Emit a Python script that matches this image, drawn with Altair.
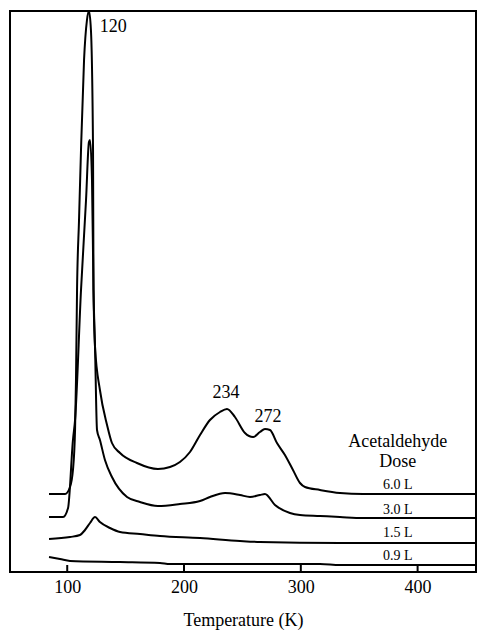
import altair as alt
import pandas as pd

# Temperature (K) and intensity (arbitrary, offset traces)
t_60 = [84.4, 98.1, 102.4, 104.9, 106.7, 107.5, 108.4, 110.1, 111.8, 114.4, 116.9, 118.6, 120.3,
        122.1, 122.5, 123.8, 128.0, 134.1, 138.3, 145.2, 159.7, 177.7, 188.0, 196.5, 205.1, 213.7,
        222.2, 230.8, 236.8, 243.6, 252.2, 259.1, 265.0, 269.3, 273.6, 279.6, 286.4, 293.3, 299.3,
        303.6, 316.4, 333.5, 353.2, 450.0]
v_60 = [78, 78, 85, 102, 142, 192, 282, 352, 422, 512, 552, 561, 542,
        422, 282, 225, 182, 147, 129, 119, 109, 103, 105, 110, 120, 137,
        152, 160, 163, 155, 139, 135, 140, 143, 142, 129, 117, 102, 89,
        85, 82, 79, 78, 78]

t_30 = [84.4, 96.4, 100.7, 104.9, 106.7, 111.8, 116.1, 118.6, 119.5, 121.2, 122.5, 123.8, 125.5,
        128.0, 132.3, 138.3, 151.2, 162.3, 177.7, 196.5, 213.7, 222.2, 235.1, 247.9, 256.5, 265.0,
        269.3, 277.9, 290.7, 299.3, 316.4, 333.5, 353.2, 450.0]
v_30 = [55, 55, 64, 132, 152, 282, 372, 430, 432, 392, 282, 225, 142,
        132, 112, 95, 75, 70, 66, 68, 71, 75, 79, 77, 75, 77,
        78, 67, 59, 57, 56, 55, 54, 54]

t_15 = [84.4, 102.4, 110.9, 115.2, 119.5, 123.8, 128.0, 136.6, 145.2, 162.3, 179.4, 213.7, 247.9,
        265.0, 333.5, 450.0]
v_15 = [33, 35, 37, 42, 49, 55, 50, 44, 40, 38, 36, 34, 31, 30, 29, 29]

t_09 = [84.4, 93.8, 102.4, 145.2, 179.4, 188.0, 256.5, 316.4, 333.5, 450.0]
v_09 = [15, 13, 11, 10, 9, 8, 8, 8, 7, 7]

doses = ["6.0 L", "3.0 L", "1.5 L", "0.9 L"]
tick_values = [100, 200, 300, 400]

rows = []
for d, ts, vs in zip(doses, [t_60, t_30, t_15, t_09], [v_60, v_30, v_15, v_09]):
    for t, v in zip(ts, vs):
        rows.append({"dose": d, "T": t, "I": v})
df = pd.DataFrame(rows)

# annotation text (data coordinates)
ann_text = ["120", "234", "272", "Acetaldehyde", "Dose", "6.0 L", "3.0 L", "1.5 L", "0.9 L"]
ann_T = [139.5, 236.0, 272.0, 383.0, 383.0, 383.0, 383.0, 383.0, 383.0]
ann_I = [545, 179, 155, 130, 110, 87, 62, 39, 16]
ann_size = [18, 18, 18, 18, 18, 14, 14, 14, 14]
ann = pd.DataFrame({"text": ann_text, "T": ann_T, "I": ann_I, "size": ann_size})

ticks = pd.DataFrame({"T": tick_values, "y0": [0] * 4, "y1": [7] * 4})

SERIF = "Liberation Serif, Times New Roman, Times, DejaVu Serif, serif"

xscale = alt.Scale(domain=[51, 450], nice=False, zero=False)
yscale = alt.Scale(domain=[0, 561], nice=False, zero=False)

xaxis = alt.Axis(values=tick_values, domain=False, ticks=False, grid=False,
                 labelFont=SERIF, labelFontSize=18, labelColor="black",
                 labelPadding=6, title="Temperature (K)", titleFont=SERIF,
                 titleFontSize=18, titleFontWeight="normal", titleColor="black",
                 titlePadding=15)

lines = alt.Chart(df).mark_line(color="black", strokeWidth=2, interpolate="monotone").encode(
    x=alt.X("T:Q", scale=xscale, axis=xaxis),
    y=alt.Y("I:Q", scale=yscale, axis=None),
    detail="dose:N",
)

tick_marks = alt.Chart(ticks).mark_rule(color="black", strokeWidth=2).encode(
    x=alt.X("T:Q", scale=xscale),
    y=alt.Y("y0:Q", scale=yscale),
    y2="y1:Q",
)

texts = alt.Chart(ann).mark_text(font=SERIF, color="black",
                                 align="center", baseline="middle").encode(
    x=alt.X("T:Q", scale=xscale),
    y=alt.Y("I:Q", scale=yscale),
    text="text:N",
    size=alt.Size("size:Q", scale=None, legend=None),
)

chart = alt.layer(lines, tick_marks, texts).properties(
    width=466, height=561,
    autosize=alt.AutoSizeParams(type="none"),
    padding={"left": 10, "top": 11, "right": 2, "bottom": 60},
    background="white",
).configure(font=SERIF).configure_view(stroke="black", strokeWidth=2)

chart.save("out.html", embed_options={"renderer": "svg", "actions": False})
